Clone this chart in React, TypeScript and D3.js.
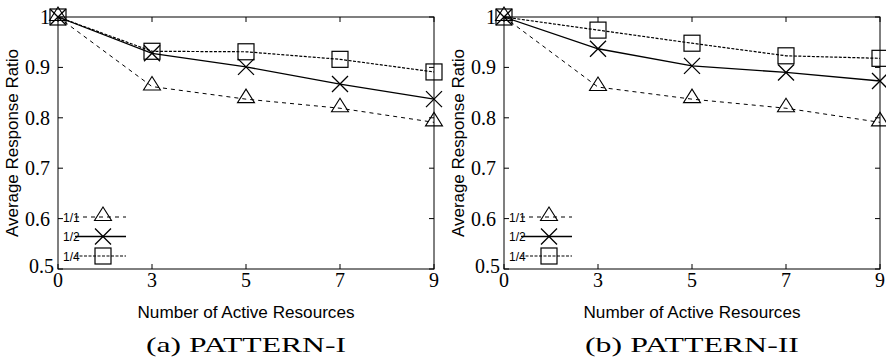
import React from 'react';
import * as d3 from 'd3';

// x categories (number of active resources)
const categories = ['0', '3', '5', '7', '9'];
const yTicks = [0.5, 0.6, 0.7, 0.8, 0.9, 1];
const seriesNames = ['1/1', '1/2', '1/4'];

// PATTERN-I
const patternI_11 = [1.0, 0.862, 0.837, 0.819, 0.791];
const patternI_12 = [1.0, 0.928, 0.901, 0.867, 0.837];
const patternI_14 = [1.0, 0.932, 0.931, 0.916, 0.891];

// PATTERN-II
const patternII_11 = [1.0, 0.861, 0.837, 0.819, 0.791];
const patternII_12 = [1.0, 0.937, 0.903, 0.890, 0.873];
const patternII_14 = [1.0, 0.974, 0.948, 0.923, 0.918];

const serif = '"Liberation Serif", "Times New Roman", serif';
const sans = '"Liberation Sans", Arial, sans-serif';

const styles = [
  { dash: '4,4', marker: 'triangle', width: 1 },
  { dash: null, marker: 'cross', width: 1.3 },
  { dash: '3,1.5', marker: 'square', width: 1.2 },
];

const Marker = ({ type, x, y }: { type: string; x: number; y: number }) => {
  if (type === 'triangle') {
    return (
      <path
        d={`M${x - 8.5},${y + 3.5} L${x + 8.5},${y + 3.5} L${x},${y - 10} Z`}
        fill="none"
        stroke="#000"
        strokeWidth={1.1}
      />
    );
  }
  if (type === 'cross') {
    return (
      <path
        d={`M${x - 8},${y - 8} L${x + 8},${y + 8} M${x - 8},${y + 8} L${x + 8},${y - 8}`}
        stroke="#000"
        strokeWidth={1.3}
      />
    );
  }
  return <rect x={x - 8} y={y - 8} width={16} height={16} fill="none" stroke="#000" strokeWidth={1.2} />;
};

const Panel = ({ left, series, caption }: { left: number; series: number[][]; caption: string }) => {
  const right = left + 376;
  const top = 17;
  const bottom = 269;
  const x = d3.scalePoint<string>().domain(categories).range([left, right]);
  const y = d3.scaleLinear().domain([0.5, 1]).range([bottom, top]);
  const line = d3
    .line<number>()
    .x((_, i) => x(categories[i]) as number)
    .y((d) => y(d));
  const mid = (left + right) / 2;
  const tick = 5;

  return (
    <g>
      {/* frame */}
      <rect x={left} y={top} width={right - left} height={bottom - top} fill="none" stroke="#000" strokeWidth={1} />
      {/* y ticks */}
      {yTicks.map((t) => (
        <g key={t}>
          <line x1={left} x2={left + tick} y1={y(t)} y2={y(t)} stroke="#000" />
          <line x1={right} x2={right - tick} y1={y(t)} y2={y(t)} stroke="#000" />
          <text
            x={t === 0.5 ? left - 4 : left - 8}
            y={y(t) + (t === 0.5 ? 4 : 7)}
            textAnchor="end"
            fontFamily={serif}
            fontSize={20}
          >
            {t === 1 ? '1' : d3.format('.1f')(t)}
          </text>
        </g>
      ))}
      {/* x ticks */}
      {categories.map((c) => (
        <g key={c}>
          <line x1={x(c)} x2={x(c)} y1={bottom} y2={bottom - tick} stroke="#000" />
          <line x1={x(c)} x2={x(c)} y1={top} y2={top + tick} stroke="#000" />
          <text x={x(c)} y={bottom + 18} textAnchor="middle" fontFamily={serif} fontSize={20}>
            {c}
          </text>
        </g>
      ))}
      {/* series lines */}
      {series.map((s, i) => (
        <path
          key={i}
          d={line(s) as string}
          fill="none"
          stroke="#000"
          strokeWidth={styles[i].width}
          strokeDasharray={styles[i].dash ?? undefined}
        />
      ))}
      {/* markers */}
      {series.map((s, i) =>
        s.map((v, j) => <Marker key={`${i}-${j}`} type={styles[i].marker} x={x(categories[j]) as number} y={y(v)} />)
      )}
      {/* legend */}
      {seriesNames.map((name, i) => {
        const ly = 217 + i * 19.5;
        return (
          <g key={name}>
            <line
              x1={left + 17}
              x2={left + 68}
              y1={ly}
              y2={ly}
              stroke="#000"
              strokeWidth={styles[i].width}
              strokeDasharray={styles[i].dash ?? undefined}
            />
            <text x={left + 5} y={ly + 4.5} fontFamily={sans} fontSize={12}>
              {name}
            </text>
            <Marker type={styles[i].marker} x={left + 45} y={ly} />
          </g>
        );
      })}
      {/* axis labels */}
      <text
        transform={`translate(${left - 40},${(top + bottom) / 2}) rotate(-90)`}
        textAnchor="middle"
        fontFamily={sans}
        fontSize={16}
        textLength={188}
        lengthAdjust="spacingAndGlyphs"
      >
        Average Response Ratio
      </text>
      <text
        x={mid}
        y={318}
        textAnchor="middle"
        fontFamily={sans}
        fontSize={16}
        textLength={217}
        lengthAdjust="spacingAndGlyphs"
      >
        Number of Active Resources
      </text>
      <text
        x={mid}
        y={352}
        textAnchor="middle"
        fontFamily={serif}
        fontSize={22}
        textLength={caption.startsWith('(a)') ? 200 : 214}
        lengthAdjust="spacingAndGlyphs"
      >
        {caption}
      </text>
    </g>
  );
};

export default function App() {
  return (
    <svg
      width={886}
      height={361}
      style={{ position: 'absolute', left: 0, top: 0, background: '#fff' }}
    >
      <Panel left={58} series={[patternI_11, patternI_12, patternI_14]} caption="(a)  PATTERN-I" />
      <Panel left={504} series={[patternII_11, patternII_12, patternII_14]} caption="(b)  PATTERN-II" />
    </svg>
  );
}
